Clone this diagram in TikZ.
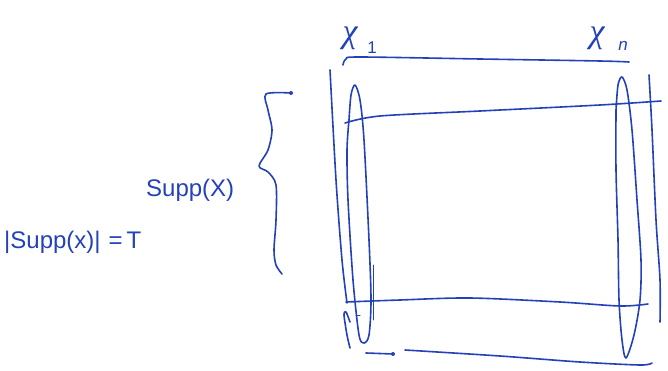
\documentclass[tikz,border=0pt]{standalone}
\usepackage{fontspec}
\setmainfont{Liberation Sans}
\newfontfamily\greekserif{Liberation Serif}
\definecolor{pen}{RGB}{35,65,185}
\begin{document}
\begin{tikzpicture}[x=1pt,y=-1pt,
  stroke/.style={draw=pen,line width=1.6pt,line cap=round,line join=round},
  lbl/.style={text=pen,inner sep=0pt,font=\fontsize{24}{26}\selectfont},
  big/.style={text=pen,inner sep=0pt,font=\greekserif\itshape\fontsize{34}{36}\selectfont},
  sub/.style={text=pen,inner sep=0pt,font=\fontsize{17}{19}\selectfont}]
\useasboundingbox (0,0) rectangle (668,371);
% labels
\node[big] (x1) at (350,38) {χ};
\node[sub] (s1) at (372,48) {1};
\node[big] (xn) at (597,38) {χ};
\node[sub] (sn) at (623,46) {\itshape n};
\node[lbl,anchor=west] (supp) at (146,190) {Supp(X)};
\node[lbl,anchor=west] (card) at (4,242) {|Supp(x)|\,\,=\,T};
% top brace over columns
\draw[stroke] plot[smooth] coordinates {(343,65) (346,59) (360,57) (480,59) (600,61) (629,62)};
% outer left line
\draw[stroke] plot[smooth] coordinates {(330,70) (336,180) (342,260) (347,303)};
% little hook bottom-left
\draw[stroke] plot[smooth] coordinates {(350,322) (346,312) (344,315) (347,335) (350,348)};
\draw[stroke,line width=1pt] (356,315) -- (360,315);
% left ellipse
\draw[stroke] plot[smooth] coordinates {(349,120) (351,95) (355,85) (360,100) (364,140) (369,240) (371,300) (369,335) (364,343) (359,335) (353,280) (348,200) (347,150) (349,120)};
\draw[stroke,line width=0.9pt] (373,265) -- (373,320);
% right ellipse
\draw[stroke] plot[smooth] coordinates {(616,110) (618,85) (622,77) (627,90) (632,130) (637,200) (641,260) (640,300) (634,335) (626,358) (622,340) (619,300) (618,240) (616,170) (616,110)};
% right outer line
\draw[stroke] plot[smooth] coordinates {(649,75) (652,130) (656,220) (660,280) (660,322)};
% inner horizontal lines
\draw[stroke] plot[smooth] coordinates {(345,123) (380,116) (480,111) (600,105) (661,101)};
\draw[stroke] plot[smooth] coordinates {(346,302) (400,300) (470,298) (560,302) (620,306) (648,304)};
% bottom lines
\draw[stroke] (366,353) -- (393,354);
\fill[pen] (393,354) circle (2pt);
\draw[stroke] plot[smooth] coordinates {(405,350) (500,356) (580,362) (640,365) (652,363)};
% left curly brace
\draw[stroke] plot[smooth] coordinates {(291,93) (266,94) (268,110) (272,130) (268,150) (259,166) (268,172) (276,185) (276,220) (274,250) (276,265) (282,274)};
\fill[pen] (291,93) circle (2pt);
\end{tikzpicture}
\end{document}
